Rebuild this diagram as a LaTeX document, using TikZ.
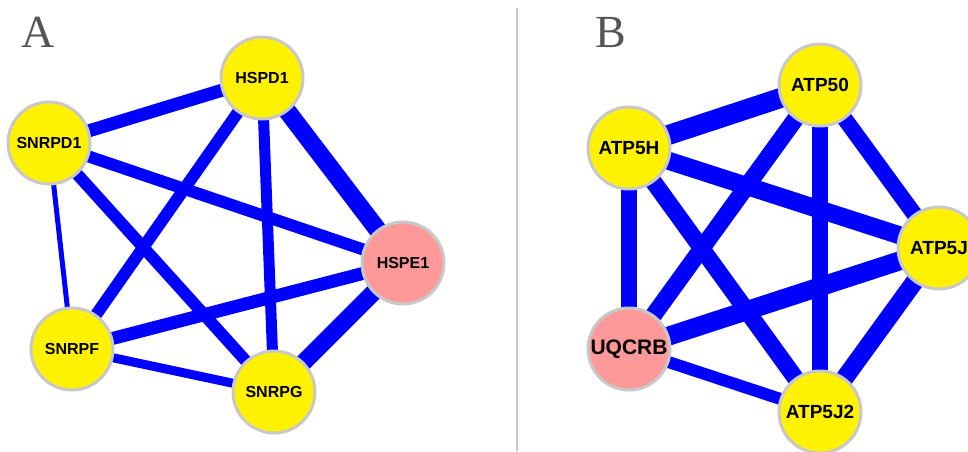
\documentclass[tikz,border=0pt]{standalone}
\usepackage{fontspec}
\setsansfont{Liberation Sans}
\newfontfamily\panelfont{Liberation Serif}
\usetikzlibrary{backgrounds}
\definecolor{ringgray}{RGB}{200,200,200}
\definecolor{seedpink}{RGB}{255,153,153}
\definecolor{panelgray}{RGB}{85,85,85}
\tikzset{
    %Sizes are in pixels, y grows downwards
    x=1pt, y=-1pt,
    gene/.style={
      circle,
      fill=yellow,
      draw=ringgray, line width=3pt,
      minimum size=82pt,
      inner sep=0pt,
      font=\sffamily\bfseries\fontsize{16}{16}\selectfont,
      text centered},
    seed/.style={gene, fill=seedpink},
    bignames/.style={font=\sffamily\bfseries\fontsize{19}{19}\selectfont},
    link/.style={draw=blue, line cap=butt},
    panel/.style={
      anchor=base west,
      inner sep=0pt,
      text=panelgray,
      font=\panelfont\fontsize{46}{46}\selectfont}
}
\begin{document}
\begin{tikzpicture}
    \useasboundingbox (0,0) rectangle (968,451);
    % panel A
    \node (la) [panel] at (21,47) {A};
    \node (hspd1)  [gene] at (262,78)  {HSPD1};
    \node (snrpd1) [gene] at (49,143)  {SNRPD1};
    \node (hspe1)  [seed] at (403,263) {HSPE1};
    \node (snrpf)  [gene] at (72,349)  {SNRPF};
    \node (snrpg)  [gene] at (274,392) {SNRPG};
    % panel B
    \node (lb) [panel] at (595,47) {B};
    \node (atp50)  [gene,bignames] at (820,85)  {ATP50};
    \node (atp5h)  [gene,bignames] at (629,148) {ATP5H};
    \node (atp5j)  [gene,bignames] at (939,248) {ATP5J};
    \node (uqcrb)  [seed,bignames,font=\sffamily\bfseries\fontsize{21}{21}\selectfont]
          at (629,349) {UQCRB};
    \node (atp5j2) [gene,bignames] at (820,412) {ATP5J2};
    % divider
    \coordinate (top) at (517,8);
    \coordinate (bot) at (517,451);
    \draw [ringgray, line width=2pt] (top) -- (bot);
    \begin{scope}[on background layer]
    \foreach \u/\v/\w in {hspd1/hspe1/18, hspe1/snrpg/17, snrpd1/hspd1/13,
                          snrpd1/hspe1/12, snrpd1/snrpg/12, hspd1/snrpf/12,
                          hspd1/snrpg/11, snrpf/hspe1/13, snrpf/snrpg/9,
                          snrpd1/snrpf/5}
      \draw [link, line width=\w pt] (\u.center) -- (\v.center);
    \foreach \u/\v/\w in {atp50/atp5h/20, atp5h/atp5j/18, atp5h/uqcrb/16,
                          atp5h/atp5j2/17, atp50/uqcrb/17, atp50/atp5j2/16,
                          atp50/atp5j/16, uqcrb/atp5j/19, uqcrb/atp5j2/12,
                          atp5j/atp5j2/18}
      \draw [link, line width=\w pt] (\u.center) -- (\v.center);
    \end{scope}
\end{tikzpicture}
\end{document}
